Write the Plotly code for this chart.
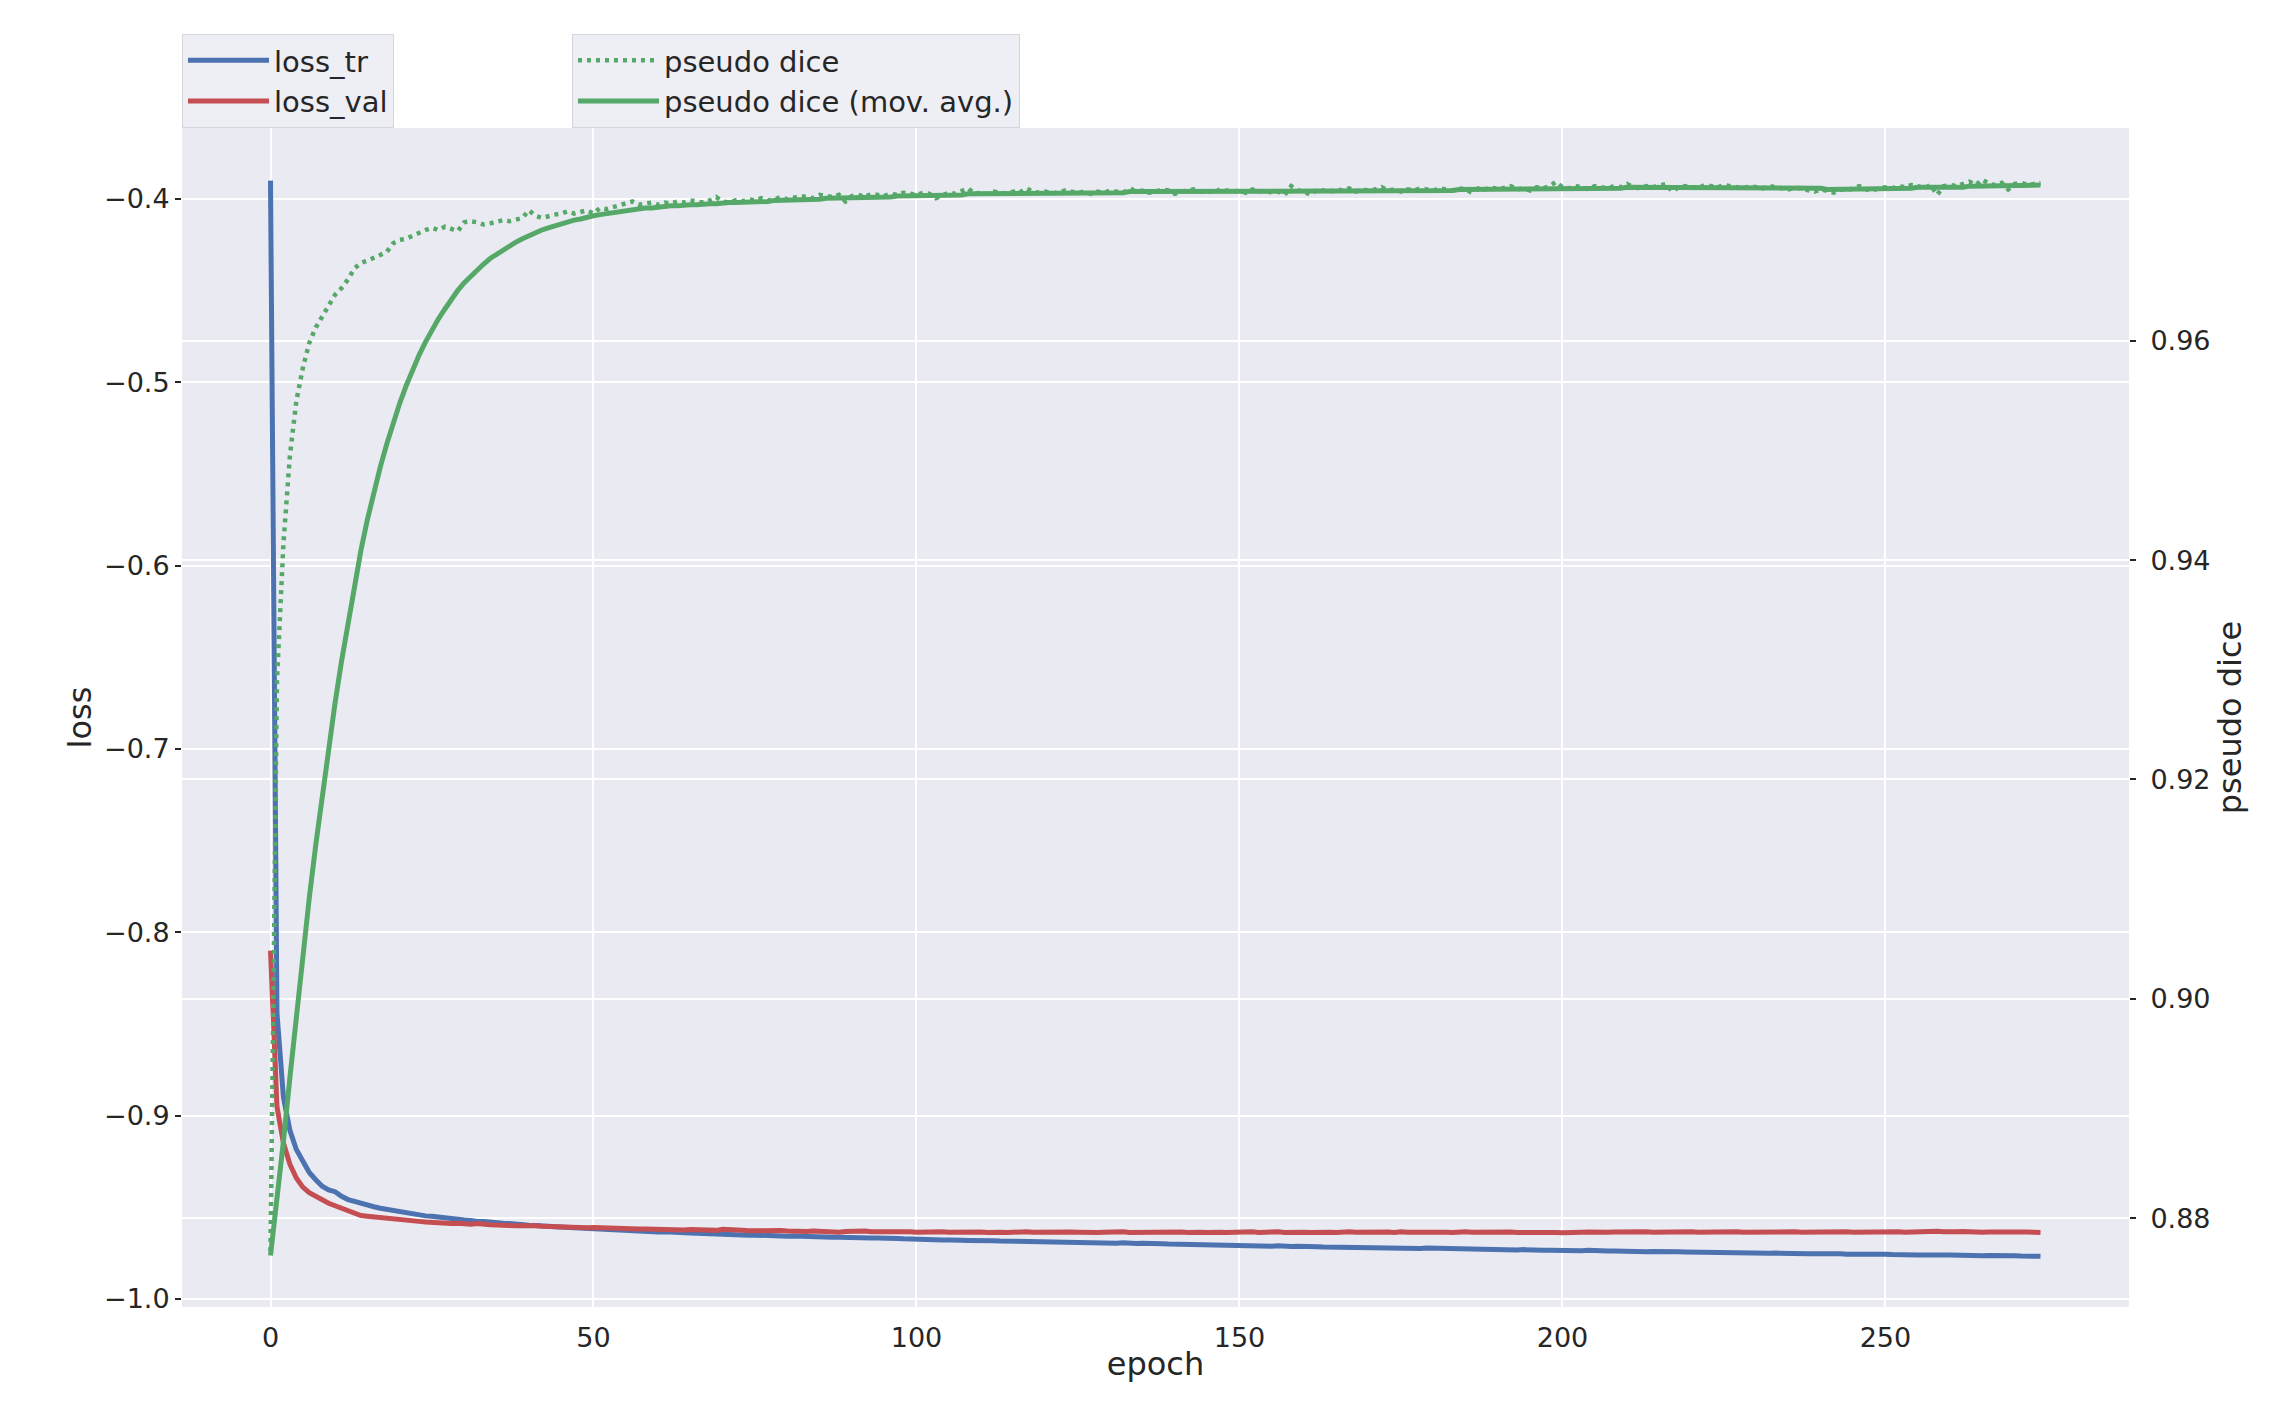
import plotly.graph_objects as go

# epochs 0..274 (one value per epoch)
epochs = list(range(275))

loss_tr = [
    -0.3900, -0.8440, -0.8900, -0.9080, -0.9185, -0.9255, -0.9310, -0.9350, -0.9385, -0.9405,
    -0.9415, -0.9440, -0.9458, -0.9468, -0.9480, -0.9490, -0.9497, -0.9505, -0.9511, -0.9516,
    -0.9528, -0.9532, -0.9536, -0.9540, -0.9547, -0.9549, -0.9554, -0.9558, -0.9565, -0.9567,
    -0.9570, -0.9572, -0.9578, -0.9577, -0.9582, -0.9585, -0.9587, -0.9589, -0.9590, -0.9596,
    -0.9598, -0.9600, -0.9599, -0.9604, -0.9606, -0.9608, -0.9611, -0.9610, -0.9613, -0.9616,
    -0.9618, -0.9617, -0.9621, -0.9623, -0.9625, -0.9624, -0.9627, -0.9630, -0.9631, -0.9633,
    -0.9635, -0.9634, -0.9637, -0.9639, -0.9638, -0.9641, -0.9642, -0.9644, -0.9643, -0.9646,
    -0.9648, -0.9647, -0.9650, -0.9651, -0.9653, -0.9652, -0.9654, -0.9656, -0.9655, -0.9657,
    -0.9658, -0.9657, -0.9659, -0.9660, -0.9661, -0.9660, -0.9663, -0.9664, -0.9663, -0.9665,
    -0.9666, -0.9665, -0.9667, -0.9668, -0.9667, -0.9670, -0.9671, -0.9670, -0.9672, -0.9674,
    -0.9676, -0.9675, -0.9677, -0.9676, -0.9678, -0.9679, -0.9677, -0.9680, -0.9681, -0.9680,
    -0.9682, -0.9683, -0.9682, -0.9684, -0.9685, -0.9683, -0.9686, -0.9687, -0.9686, -0.9688,
    -0.9689, -0.9688, -0.9690, -0.9689, -0.9691, -0.9692, -0.9690, -0.9693, -0.9694, -0.9693,
    -0.9695, -0.9696, -0.9694, -0.9697, -0.9698, -0.9696, -0.9699, -0.9700, -0.9699, -0.9701,
    -0.9702, -0.9700, -0.9703, -0.9704, -0.9702, -0.9705, -0.9706, -0.9705, -0.9707, -0.9708,
    -0.9706, -0.9709, -0.9710, -0.9709, -0.9711, -0.9712, -0.9710, -0.9713, -0.9714, -0.9712,
    -0.9715, -0.9716, -0.9715, -0.9717, -0.9718, -0.9716, -0.9719, -0.9720, -0.9718, -0.9721,
    -0.9719, -0.9722, -0.9723, -0.9721, -0.9724, -0.9725, -0.9723, -0.9726, -0.9725, -0.9722,
    -0.9723, -0.9726, -0.9727, -0.9728, -0.9726, -0.9729, -0.9730, -0.9728, -0.9731, -0.9730,
    -0.9729, -0.9731, -0.9732, -0.9733, -0.9731, -0.9734, -0.9733, -0.9735, -0.9734, -0.9736,
    -0.9735, -0.9734, -0.9736, -0.9737, -0.9735, -0.9738, -0.9737, -0.9739, -0.9738, -0.9740,
    -0.9739, -0.9741, -0.9740, -0.9742, -0.9741, -0.9743, -0.9742, -0.9741, -0.9743, -0.9744,
    -0.9745, -0.9744, -0.9746, -0.9745, -0.9747, -0.9746, -0.9748, -0.9747, -0.9749, -0.9748,
    -0.9750, -0.9749, -0.9751, -0.9750, -0.9752, -0.9751, -0.9753, -0.9752, -0.9754, -0.9753,
    -0.9752, -0.9754, -0.9755, -0.9753, -0.9756, -0.9755, -0.9757, -0.9756, -0.9758, -0.9757,
    -0.9756, -0.9758, -0.9757, -0.9759, -0.9758, -0.9760, -0.9761, -0.9759, -0.9762, -0.9761,
    -0.9760, -0.9762, -0.9761, -0.9763, -0.9762, -0.9764, -0.9763, -0.9762, -0.9764, -0.9765,
    -0.9764, -0.9766, -0.9765, -0.9766, -0.9767,
]

loss_val = [
    -0.8100, -0.8950, -0.9150, -0.9265, -0.9340, -0.9390, -0.9420, -0.9442, -0.9462, -0.9478,
    -0.9492, -0.9505, -0.9518, -0.9530, -0.9545, -0.9549, -0.9553, -0.9558, -0.9563, -0.9566,
    -0.9570, -0.9572, -0.9575, -0.9577, -0.9580, -0.9583, -0.9586, -0.9584, -0.9588, -0.9587,
    -0.9590, -0.9592, -0.9589, -0.9594, -0.9595, -0.9597, -0.9596, -0.9599, -0.9601, -0.9600,
    -0.9603, -0.9601, -0.9604, -0.9606, -0.9605, -0.9607, -0.9609, -0.9608, -0.9610, -0.9612,
    -0.9611, -0.9613, -0.9612, -0.9614, -0.9616, -0.9615, -0.9617, -0.9619, -0.9618, -0.9620,
    -0.9619, -0.9621, -0.9620, -0.9622, -0.9624, -0.9621, -0.9623, -0.9625, -0.9622, -0.9626,
    -0.9620, -0.9624, -0.9627, -0.9626, -0.9628, -0.9627, -0.9629, -0.9628, -0.9630, -0.9627,
    -0.9629, -0.9631, -0.9628, -0.9632, -0.9630, -0.9633, -0.9631, -0.9634, -0.9636, -0.9632,
    -0.9630, -0.9633, -0.9629, -0.9634, -0.9633, -0.9635, -0.9634, -0.9636, -0.9635, -0.9634,
    -0.9636, -0.9634, -0.9637, -0.9635, -0.9633, -0.9636, -0.9635, -0.9637, -0.9634, -0.9636,
    -0.9635, -0.9637, -0.9634, -0.9636, -0.9638, -0.9635, -0.9637, -0.9633, -0.9636, -0.9635,
    -0.9637, -0.9636, -0.9634, -0.9637, -0.9635, -0.9636, -0.9638, -0.9635, -0.9637, -0.9636,
    -0.9634, -0.9636, -0.9633, -0.9637, -0.9636, -0.9638, -0.9635, -0.9637, -0.9636, -0.9634,
    -0.9636, -0.9635, -0.9637, -0.9634, -0.9636, -0.9638, -0.9635, -0.9636, -0.9637, -0.9635,
    -0.9633, -0.9636, -0.9634, -0.9637, -0.9635, -0.9636, -0.9634, -0.9637, -0.9635, -0.9633,
    -0.9636, -0.9637, -0.9635, -0.9634, -0.9636, -0.9638, -0.9635, -0.9634, -0.9636, -0.9635,
    -0.9637, -0.9634, -0.9636, -0.9635, -0.9637, -0.9633, -0.9636, -0.9635, -0.9634, -0.9636,
    -0.9635, -0.9637, -0.9636, -0.9638, -0.9635, -0.9634, -0.9636, -0.9635, -0.9637, -0.9636,
    -0.9634, -0.9636, -0.9635, -0.9637, -0.9636, -0.9635, -0.9637, -0.9636, -0.9635, -0.9637,
    -0.9639, -0.9636, -0.9634, -0.9636, -0.9635, -0.9637, -0.9634, -0.9636, -0.9635, -0.9634,
    -0.9636, -0.9635, -0.9637, -0.9634, -0.9636, -0.9635, -0.9634, -0.9636, -0.9637, -0.9635,
    -0.9634, -0.9636, -0.9635, -0.9634, -0.9636, -0.9633, -0.9635, -0.9634, -0.9636, -0.9635,
    -0.9634, -0.9636, -0.9635, -0.9634, -0.9633, -0.9635, -0.9634, -0.9636, -0.9635, -0.9633,
    -0.9634, -0.9632, -0.9633, -0.9635, -0.9634, -0.9636, -0.9635, -0.9633, -0.9632, -0.9634,
    -0.9635, -0.9633, -0.9634, -0.9636, -0.9634, -0.9635, -0.9633, -0.9634, -0.9631, -0.9633,
    -0.9636, -0.9634, -0.9632, -0.9635, -0.9634, -0.9636, -0.9635, -0.9634, -0.9636, -0.9635,
    -0.9634, -0.9636, -0.9635, -0.9636, -0.9637,
]

pseudo_dice = [
    0.8770, 0.9290, 0.9415, 0.9495, 0.9545, 0.9575, 0.9598, 0.9612, 0.9622, 0.9632,
    0.9642, 0.9648, 0.9656, 0.9666, 0.9671, 0.9673, 0.9676, 0.9679, 0.9681, 0.9689,
    0.9692, 0.9693, 0.9696, 0.9699, 0.9701, 0.9703, 0.9701, 0.9704, 0.9702, 0.9700,
    0.9708, 0.9709, 0.9708, 0.9706, 0.9707, 0.9709, 0.9710, 0.9709, 0.9711, 0.9712,
    0.9719, 0.9714, 0.9712, 0.9714, 0.9715, 0.9716, 0.9718, 0.9716, 0.9717, 0.9719,
    0.9716, 0.9721, 0.9720, 0.9722, 0.9723, 0.9725, 0.9727, 0.9724, 0.9725, 0.9726,
    0.9724, 0.9726, 0.9725, 0.9727, 0.9726, 0.9728, 0.9727, 0.9726, 0.9728, 0.9731,
    0.9727, 0.9726, 0.9728, 0.9727, 0.9729, 0.9728, 0.9730, 0.9728, 0.9729, 0.9731,
    0.9729, 0.9730, 0.9732, 0.9731, 0.9730, 0.9733, 0.9732, 0.9731, 0.9733, 0.9727,
    0.9732, 0.9733, 0.9731, 0.9734, 0.9733, 0.9732, 0.9734, 0.9733, 0.9735, 0.9734,
    0.9733, 0.9735, 0.9734, 0.9730, 0.9733, 0.9735, 0.9734, 0.9736, 0.9739, 0.9734,
    0.9735, 0.9734, 0.9736, 0.9735, 0.9734, 0.9736, 0.9735, 0.9739, 0.9736, 0.9735,
    0.9736, 0.9734, 0.9735, 0.9737, 0.9736, 0.9735, 0.9736, 0.9734, 0.9736, 0.9735,
    0.9737, 0.9736, 0.9735, 0.9739, 0.9736, 0.9737, 0.9735, 0.9736, 0.9738, 0.9737,
    0.9734, 0.9736, 0.9737, 0.9738, 0.9736, 0.9737, 0.9735, 0.9738, 0.9737, 0.9736,
    0.9737, 0.9735, 0.9738, 0.9736, 0.9737, 0.9735, 0.9736, 0.9733, 0.9741, 0.9737,
    0.9736, 0.9733, 0.9738, 0.9737, 0.9736, 0.9738, 0.9737, 0.9739, 0.9736, 0.9738,
    0.9737, 0.9738, 0.9740, 0.9737, 0.9738, 0.9736, 0.9738, 0.9737, 0.9739, 0.9738,
    0.9737, 0.9739, 0.9738, 0.9737, 0.9739, 0.9738, 0.9735, 0.9739, 0.9738, 0.9740,
    0.9738, 0.9739, 0.9741, 0.9738, 0.9739, 0.9737, 0.9740, 0.9739, 0.9741, 0.9745,
    0.9740, 0.9739, 0.9741, 0.9740, 0.9738, 0.9741, 0.9740, 0.9739, 0.9741, 0.9740,
    0.9743, 0.9740, 0.9739, 0.9741, 0.9740, 0.9742, 0.9743, 0.9736, 0.9740, 0.9741,
    0.9740, 0.9739, 0.9742, 0.9741, 0.9740, 0.9742, 0.9741, 0.9740, 0.9739, 0.9741,
    0.9740, 0.9739, 0.9741, 0.9740, 0.9739, 0.9738, 0.9740, 0.9739, 0.9737, 0.9736,
    0.9738, 0.9737, 0.9735, 0.9738, 0.9737, 0.9739, 0.9741, 0.9738, 0.9737, 0.9739,
    0.9740, 0.9739, 0.9741, 0.9740, 0.9742, 0.9741, 0.9739, 0.9742, 0.9733, 0.9741,
    0.9742, 0.9741, 0.9743, 0.9745, 0.9742, 0.9747, 0.9743, 0.9742, 0.9744, 0.9738,
    0.9743, 0.9744, 0.9742, 0.9743, 0.9744,
]

pseudo_dice_ma = [
    0.8766, 0.8815, 0.8870, 0.8928, 0.8985, 0.9040, 0.9092, 0.9140, 0.9186, 0.9229,
    0.9270, 0.9308, 0.9344, 0.9378, 0.9409, 0.9437, 0.9462, 0.9485, 0.9506, 0.9526,
    0.9543, 0.9559, 0.9574, 0.9587, 0.9599, 0.9610, 0.9620, 0.9629, 0.9638, 0.9646,
    0.9653, 0.9659, 0.9665, 0.9670, 0.9675, 0.9679, 0.9683, 0.9687, 0.9690, 0.9693,
    0.9696, 0.9698, 0.9701, 0.9703, 0.9705, 0.9707, 0.9708, 0.9710, 0.9711, 0.9713,
    0.9714, 0.9715, 0.9716, 0.9717, 0.9718, 0.9719, 0.9720, 0.9720, 0.9721, 0.9721,
    0.9722, 0.9722, 0.9723, 0.9723, 0.9724, 0.9724, 0.9724, 0.9725, 0.9725, 0.9725,
    0.9726, 0.9726, 0.9726, 0.9726, 0.9727, 0.9727, 0.9727, 0.9727, 0.9728, 0.9728,
    0.9728, 0.9728, 0.9729, 0.9729, 0.9729, 0.9729, 0.9730, 0.9730, 0.9730, 0.9730,
    0.9730, 0.9730, 0.9731, 0.9731, 0.9731, 0.9731, 0.9731, 0.9732, 0.9732, 0.9732,
    0.9732, 0.9732, 0.9733, 0.9733, 0.9733, 0.9733, 0.9733, 0.9733, 0.9734, 0.9734,
    0.9734, 0.9734, 0.9734, 0.9734, 0.9734, 0.9734, 0.9734, 0.9735, 0.9735, 0.9735,
    0.9735, 0.9735, 0.9735, 0.9735, 0.9735, 0.9735, 0.9735, 0.9735, 0.9735, 0.9735,
    0.9735, 0.9735, 0.9735, 0.9736, 0.9736, 0.9736, 0.9736, 0.9736, 0.9736, 0.9736,
    0.9736, 0.9736, 0.9736, 0.9736, 0.9736, 0.9736, 0.9736, 0.9736, 0.9736, 0.9736,
    0.9736, 0.9736, 0.9736, 0.9736, 0.9736, 0.9736, 0.9736, 0.9736, 0.9736, 0.9736,
    0.9736, 0.9736, 0.9736, 0.9736, 0.9736, 0.9737, 0.9737, 0.9737, 0.9737, 0.9737,
    0.9737, 0.9737, 0.9737, 0.9737, 0.9737, 0.9737, 0.9737, 0.9737, 0.9737, 0.9737,
    0.9737, 0.9737, 0.9737, 0.9737, 0.9738, 0.9738, 0.9738, 0.9738, 0.9738, 0.9738,
    0.9738, 0.9738, 0.9738, 0.9738, 0.9738, 0.9738, 0.9738, 0.9738, 0.9739, 0.9739,
    0.9739, 0.9739, 0.9739, 0.9739, 0.9739, 0.9739, 0.9739, 0.9739, 0.9739, 0.9739,
    0.9740, 0.9740, 0.9740, 0.9740, 0.9740, 0.9740, 0.9740, 0.9740, 0.9740, 0.9740,
    0.9740, 0.9740, 0.9740, 0.9740, 0.9740, 0.9740, 0.9740, 0.9740, 0.9740, 0.9740,
    0.9740, 0.9740, 0.9740, 0.9740, 0.9740, 0.9740, 0.9740, 0.9739, 0.9739, 0.9739,
    0.9739, 0.9738, 0.9738, 0.9738, 0.9738, 0.9738, 0.9738, 0.9738, 0.9738, 0.9738,
    0.9739, 0.9739, 0.9739, 0.9739, 0.9739, 0.9740, 0.9740, 0.9740, 0.9739, 0.9739,
    0.9740, 0.9740, 0.9740, 0.9741, 0.9741, 0.9741, 0.9742, 0.9742, 0.9742, 0.9742,
    0.9742, 0.9742, 0.9742, 0.9742, 0.9742,
]

BLUE = '#4C72B0'
RED = '#C44E52'
GREEN = '#55A868'
BG = '#EAEAF2'
TEXT = '#262626'
FONT = 'DejaVu Sans'

fig = go.Figure()

# loss curves (left axis)
fig.add_trace(go.Scatter(
    x=epochs, y=loss_tr, mode='lines', name='loss_tr',
    line=dict(color=BLUE, width=5), legend='legend'
))
fig.add_trace(go.Scatter(
    x=epochs, y=loss_val, mode='lines', name='loss_val',
    line=dict(color=RED, width=5), legend='legend'
))

# pseudo dice (right axis)
fig.add_trace(go.Scatter(
    x=epochs, y=pseudo_dice, mode='lines', name='pseudo dice',
    line=dict(color=GREEN, width=4.5, dash='4px,5px'),
    yaxis='y2', legend='legend2'
))
fig.add_trace(go.Scatter(
    x=epochs, y=pseudo_dice_ma, mode='lines', name='pseudo dice (mov. avg.)',
    line=dict(color=GREEN, width=5),
    yaxis='y2', legend='legend2'
))

legend_style = dict(
    bgcolor='rgba(234,234,242,0.8)',
    bordercolor='#D5D5DD',
    borderwidth=1,
    font=dict(family=FONT, size=29, color=TEXT),
    xanchor='left',
    yanchor='bottom',
    y=1.0,
    tracegroupgap=0,
    itemwidth=81,
)

# the page body has an 8px margin, margins below are shifted to compensate
fig.update_layout(
    width=2276,
    height=1418,
    paper_bgcolor='white',
    plot_bgcolor=BG,
    font=dict(family=FONT, color=TEXT, size=27),
    margin=dict(l=174, r=155, t=120, b=119),
    showlegend=True,
    legend=dict(x=0.0, **legend_style),
    legend2=dict(x=0.2003, **legend_style),
    xaxis=dict(
        range=[-13.7, 287.7],
        tick0=0, dtick=50,
        showgrid=True, gridcolor='white', gridwidth=2,
        zeroline=False, showline=False,
        ticks='outside', ticklen=7, tickcolor='rgba(0,0,0,0)',
        tickfont=dict(size=27),
        title=dict(text='epoch', font=dict(size=32), standoff=0),
    ),
    yaxis=dict(
        range=[-1.0044, -0.3613],
        tick0=-1.0, dtick=0.1, tickformat='.1f',
        showgrid=True, gridcolor='white', gridwidth=2,
        zeroline=False, showline=False,
        ticks='outside', ticklen=6, tickwidth=1.5, tickcolor=TEXT,
        tickfont=dict(size=27),
        title=dict(text='loss', font=dict(size=32), standoff=2),
    ),
    yaxis2=dict(
        range=[0.8719, 0.9794],
        tick0=0.88, dtick=0.02, tickformat='.2f',
        overlaying='y', side='right',
        showgrid=True, gridcolor='white', gridwidth=2,
        zeroline=False, showline=False,
        ticks='outside', ticklen=6, tickwidth=1.5, tickcolor=TEXT,
        ticklabelstandoff=9,
        tickfont=dict(size=27),
        title=dict(text='pseudo dice', font=dict(size=32), standoff=6),
    ),
)

fig.write_html("out.html")
